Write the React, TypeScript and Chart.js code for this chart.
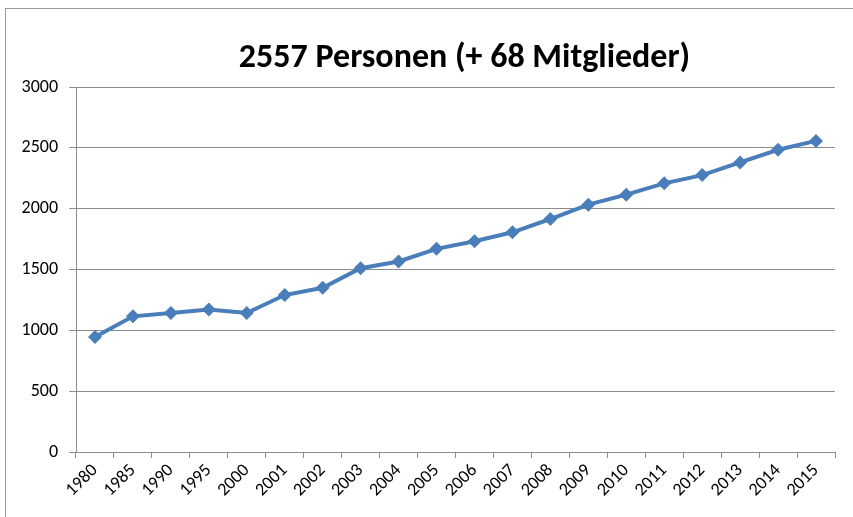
import React, { useEffect, useRef } from "react";
import { Chart, registerables } from "chart.js";

Chart.register(...registerables);

const years = ["1980","1985","1990","1995","2000","2001","2002","2003","2004","2005","2006","2007","2008","2009","2010","2011","2012","2013","2014","2015"];
const persons = [945,1115,1142,1172,1142,1290,1350,1510,1566,1670,1732,1806,1915,2033,2115,2208,2276,2380,2484,2557];
const titleText = "2557 Personen (+ 68 Mitglieder)";
const yTicks = { min: 0, max: 3000, step: 500 };

const FONT = "Carlito, Lato, 'Open Sans', sans-serif";

const titlePlugin = {
  id: "offsetTitle",
  afterDraw(chart: any) {
    const ctx = chart.ctx;
    const a = chart.chartArea;
    ctx.save();
    ctx.font = `bold 34px ${FONT}`;
    ctx.fillStyle = "#000";
    ctx.textAlign = "center";
    ctx.textBaseline = "middle";
    ctx.fillText(titleText, (a.left + a.right) / 2 + 9, a.top - 29);
    ctx.restore();
  },
};

export default function App() {
  const ref = useRef<HTMLCanvasElement | null>(null);
  useEffect(() => {
    document.body.style.margin = "0";
    const c = ref.current!;
    const chart = new Chart(c, {
      type: "line",
      data: {
        labels: years,
        datasets: [
          {
            data: persons,
            borderColor: "#4A7EBB",
            backgroundColor: "#4A7EBB",
            borderWidth: 4,
            pointStyle: "rectRot",
            pointRadius: 7,
            pointBorderWidth: 0,
            tension: 0,
          },
        ],
      },
      options: {
        animation: false,
        responsive: false,
        layout: { padding: { left: 0, right: 18, top: 87, bottom: 0 } },
        plugins: {
          legend: { display: false },
          tooltip: { enabled: false },
          title: { display: false },
        },
        scales: {
          x: {
            offset: true,
            afterFit: (s: any) => { s.height = 65; },
            grid: { display: true, drawOnChartArea: false, drawTicks: true, tickLength: 6, offset: true, color: "#8C8C8C" },
            border: { display: true, color: "#8C8C8C", width: 1 },
            ticks: { color: "#000", font: { family: FONT, size: 18 }, minRotation: 45, maxRotation: 45, padding: 2, autoSkip: false },
          },
          y: {
            min: yTicks.min,
            max: yTicks.max,
            afterFit: (s: any) => { s.width = 76; },
            grid: { color: "#8C8C8C", tickLength: 7, drawTicks: true },
            border: { display: true, color: "#8C8C8C", width: 1 },
            ticks: { stepSize: yTicks.step, color: "#000", font: { family: FONT, size: 18 }, padding: 11, callback: (v: any) => String(v) },
          },
        },
      },
      plugins: [titlePlugin],
    });
    return () => chart.destroy();
  }, []);
  return (
    <div style={{ position: "relative", width: 853, height: 517, overflow: "hidden", background: "#fff" }}>
      <canvas ref={ref} width={853} height={517} style={{ display: "block" }} />
      <div style={{ position: "absolute", left: 5, top: 8, width: 860, height: 520, border: "1px solid #9A9A9A", pointerEvents: "none" }} />
    </div>
  );
}
